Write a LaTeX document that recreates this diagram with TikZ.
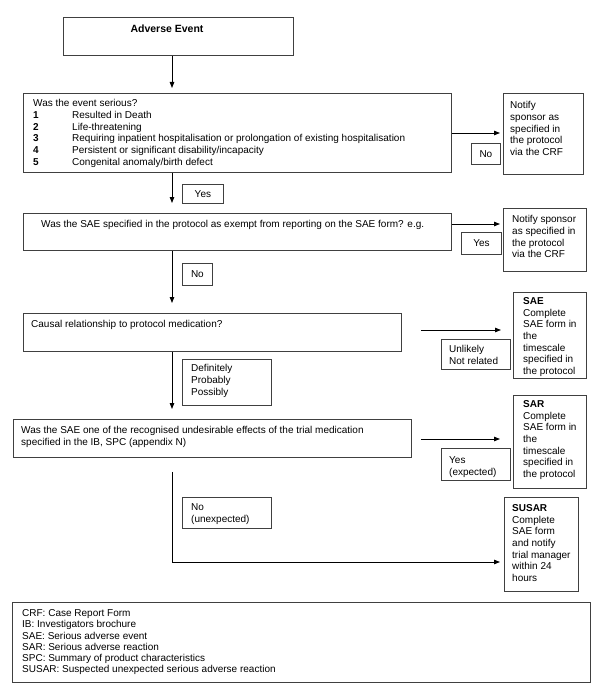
\documentclass[tikz,border=0pt]{standalone}
\usepackage{fontspec}
\setmainfont{Liberation Sans}
\usetikzlibrary{arrows.meta,calc}
\begin{document}
\begin{tikzpicture}[x=1pt,y=-1pt,
  box/.style={draw=black!75, line width=0.8pt, inner sep=0pt, anchor=north west},
  txt/.style={inner sep=0pt, anchor=north west, align=left, font=\fontsize{10}{11.7}\selectfont},
  ctxt/.style={inner sep=0pt, anchor=center, font=\fontsize{10}{11.7}\selectfont},
  arr/.style={draw=black, line width=0.9pt, -{Triangle[length=6pt,width=4.5pt]}},
  ln/.style={draw=black, line width=0.9pt}]
\useasboundingbox (0,0) rectangle (600,698);
\fill[white] (0,0) rectangle (600,698);

% boxes
\node[box, minimum width=230pt, minimum height=38pt] (ae) at (63,17) {};
\node[box, minimum width=428pt, minimum height=79pt] (S) at (23,93) {};
\node[box, minimum width=80pt, minimum height=81pt] (N1) at (503,93) {};
\node[box, minimum width=29pt, minimum height=21pt] (noL1) at (471,143) {};
\node[box, minimum width=41pt, minimum height=19pt] (yesL1) at (182,184) {};
\node[box, minimum width=428pt, minimum height=37pt] (Q2) at (23,213) {};
\node[box, minimum width=83pt, minimum height=63pt] (N2) at (503,208) {};
\node[box, minimum width=40pt, minimum height=22pt] (yesL2) at (461,232) {};
\node[box, minimum width=30pt, minimum height=22pt] (noL2) at (182,263) {};
\node[box, minimum width=378pt, minimum height=38pt] (Q3) at (23,313) {};
\node[box, minimum width=69pt, minimum height=30pt] (unlL) at (441,339) {};
\node[box, minimum width=73pt, minimum height=86pt] (sae) at (513,292) {};
\node[box, minimum width=89pt, minimum height=46pt] (defL) at (182,359) {};
\node[box, minimum width=398pt, minimum height=38pt] (Q4) at (13,419) {};
\node[box, minimum width=69pt, minimum height=32pt] (expL) at (441,448) {};
\node[box, minimum width=73pt, minimum height=93pt] (sar) at (513,395) {};
\node[box, minimum width=89pt, minimum height=31pt] (unexpL) at (182,497) {};
\node[box, minimum width=74pt, minimum height=94pt] (susar) at (504,497) {};
\node[box, minimum width=578pt, minimum height=80pt] (leg) at (12,602) {};

% texts
\node[ctxt, font=\fontsize{10.5}{12}\selectfont\bfseries] (aet) at (167,29) {Adverse Event};
\node[txt] (St) at (33,99.3) {Was the event serious?\\
\makebox[39pt][l]{\textbf{1}}Resulted in Death\\
\makebox[39pt][l]{\textbf{2}}Life-threatening\\
\makebox[39pt][l]{\textbf{3}}Requiring inpatient hospitalisation or prolongation of existing hospitalisation\\
\makebox[39pt][l]{\textbf{4}}Persistent or significant disability/incapacity\\
\makebox[39pt][l]{\textbf{5}}Congenital anomaly/birth defect};
\node[txt] (N1t) at (510,101.3) {Notify\\sponsor as\\specified in\\the protocol\\via the CRF};
\node[ctxt] (noL1t) at (noL1.center) {No};
\node[ctxt] (yesL1t) at (yesL1.center) {Yes};
\node[txt] (Q2t) at (41,220.3) {Was the SAE specified in the protocol as exempt from reporting on the SAE form? e.g.};
\node[txt] (N2t) at (512,215.3) {Notify sponsor\\as specified in\\the protocol\\via the CRF};
\node[ctxt] (yesL2t) at (yesL2.center) {Yes};
\node[ctxt] (noL2t) at (noL2.center) {No};
\node[txt] (Q3t) at (31,320.3) {Causal relationship to protocol medication?};
\node[txt] (unlt) at (449,345.3) {Unlikely\\Not related};
\node[txt] (saet) at (523,297.3) {\textbf{SAE}\\Complete\\SAE form in\\the\\timescale\\specified in\\the protocol};
\node[txt] (deft) at (191,364.3) {Definitely\\Probably\\Possibly};
\node[txt] (Q4t) at (21,426.3) {Was the SAE one of the recognised undesirable effects of the trial medication\\specified in the IB, SPC (appendix N)};
\node[txt] (expt) at (449,456.3) {Yes\\(expected)};
\node[txt] (sart) at (523,400.3) {\textbf{SAR}\\Complete\\SAE form in\\the\\timescale\\specified in\\the protocol};
\node[txt] (unexpt) at (191,503.3) {No\\(unexpected)};
\node[txt] (susart) at (512,504.3) {\textbf{SUSAR}\\Complete\\SAE form\\and notify\\trial manager\\within 24\\hours};
\node[txt, font=\fontsize{10}{11.3}\selectfont] (legt) at (22,609.3) {CRF: Case Report Form\\IB: Investigators brochure\\SAE: Serious adverse event\\SAR: Serious adverse reaction\\SPC: Summary of product characteristics\\SUSAR: Suspected unexpected serious adverse reaction};

% connectors
\coordinate (sp) at (172,0);
\coordinate (r1) at (0,133);
\coordinate (r2) at (0,224);
\coordinate (r3) at (0,330);
\coordinate (r4) at (0,439);
\coordinate (r5) at (0,562);
\draw[arr] (ae.south -| sp) -- ([yshift=5pt]S.north -| sp);
\draw[arr] (S.south -| sp) -- ([yshift=10pt]Q2.north -| sp);
\draw[arr] (Q2.south -| sp) -- ([yshift=10pt]Q3.north -| sp);
\draw[arr] (Q3.south -| sp) -- ([yshift=10pt]Q4.north -| sp);
\draw[arr] ([yshift=-14pt]Q4.south -| sp) -- (sp |- r5) -- ([xshift=-4pt]susar.west |- r5);
\draw[arr] (S.east |- r1) -- ([xshift=-3pt]N1.west |- r1);
\draw[arr] (Q2.east |- r2) -- ([xshift=-3pt]N2.west |- r2);
\draw[arr] ([xshift=19pt]Q3.east |- r3) -- ([xshift=-12pt]sae.west |- r3);
\draw[arr] ([xshift=9pt]Q4.east |- r4) -- ([xshift=-13pt]sar.west |- r4);
\end{tikzpicture}
\end{document}
